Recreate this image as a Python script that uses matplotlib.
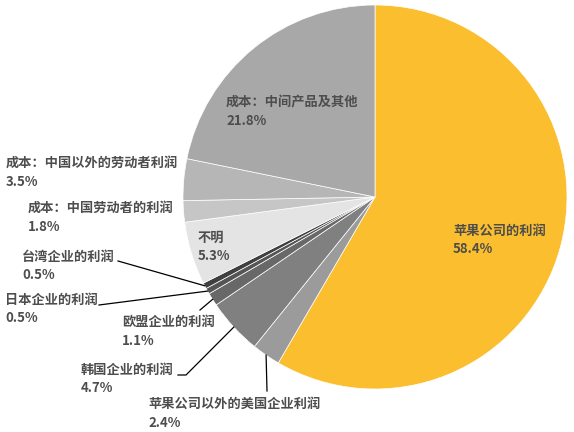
import matplotlib
matplotlib.use("Agg")
import matplotlib.pyplot as plt
from matplotlib.lines import Line2D
import numpy as np

plt.rcParams['font.family'] = ['Noto Sans CJK SC', 'DejaVu Sans']

categories = ["苹果公司的利润", "苹果公司以外的美国企业利润", "韩国企业的利润", "欧盟企业的利润",
              "日本企业的利润", "台湾企业的利润", "不明", "成本：中国劳动者的利润",
              "成本：中国以外的劳动者利润", "成本：中间产品及其他"]
values = [58.4, 2.4, 4.7, 1.1, 0.5, 0.5, 5.3, 1.8, 3.5, 21.8]
value_labels = ["58.4%", "2.4%", "4.7%", "1.1%", "0.5%", "0.5%", "5.3%", "1.8%", "3.5%", "21.8%"]
colors = ["#FBBE2E", "#9B9B9B", "#808080", "#686868", "#555555", "#404040",
          "#E4E4E4", "#C6C6C6", "#B6B6B6", "#A8A8A8"]

W, H = 574, 432
fig = plt.figure(figsize=(W / 100, H / 100), dpi=100)
cx, cy, r = 375, 197, 192
ax = fig.add_axes([(cx - r) / W, (H - cy - r) / H, 2 * r / W, 2 * r / H])
wedges, _ = ax.pie(values, colors=colors, startangle=90, counterclock=False, radius=1,
                   wedgeprops=dict(edgecolor='white', linewidth=0.5))
ax.set_xlim(-1, 1)
ax.set_ylim(-1, 1)
ax.set_aspect('equal')
ax.axis('off')

# label positions (pixel, left x, vertical middle of the two-line block, y from top)
label_pos = [(453, 240), (148, 413.5), (81, 379), (122, 331.5), (5, 309), (22, 266),
             (198, 247), (28, 217.5), (6, 172.5), (226, 112)]
# leader lines: list of pixel points from text side (None = no leader)
leaders = [None, [(267, 391)], [(178, 375), (186, 375)], [(200, 310)], [(99, 305)],
           [(118, 261)], None, None, None, None]

txtcolor = "#4d4d4d"
for i, (cat, vl) in enumerate(zip(categories, value_labels)):
    x, y = label_pos[i]
    fig.text(x / W, 1 - y / H, cat + "\n" + vl, ha='left', va='center',
             fontsize=9.5, color=txtcolor, fontweight='bold', linespacing=1.45)

fig.canvas.draw()
cum = np.cumsum([0] + values)
for i, pts in enumerate(leaders):
    if pts is None:
        continue
    mid = (cum[i] + cum[i + 1]) / 2 / 100.0
    ang = np.deg2rad(90 - 360 * mid)
    ex, ey = ax.transData.transform((np.cos(ang), np.sin(ang)))
    xs = [p[0] for p in pts] + [ex]
    ys = [H - p[1] for p in pts] + [ey]
    fig.add_artist(Line2D(xs, ys, transform=None, color='black', linewidth=0.9))

fig.savefig("out.png", dpi=100)
